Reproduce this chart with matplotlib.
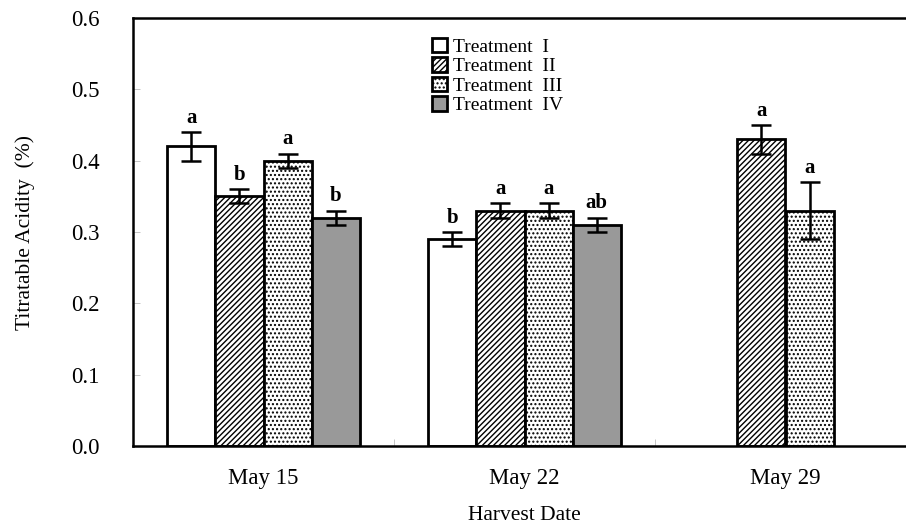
import numpy as np
import matplotlib.pyplot as plt
import matplotlib as mpl

plt.rcParams['font.family'] = ['Liberation Serif', 'DejaVu Serif']
mpl.rcParams['hatch.linewidth'] = 1.0

dates = ["May 15", "May 22", "May 29"]
treatments = ["Treatment  I", "Treatment  II", "Treatment  III", "Treatment  IV"]

# values per treatment (None = not harvested)
t1 = [0.42, 0.29, None]
t2 = [0.35, 0.33, 0.43]
t3 = [0.40, 0.33, 0.33]
t4 = [0.32, 0.31, None]
err1 = [0.02, 0.01, None]
err2 = [0.01, 0.01, 0.02]
err3 = [0.01, 0.01, 0.04]
err4 = [0.01, 0.01, None]
letters1 = ["a", "b", None]
letters2 = ["b", "a", "a"]
letters3 = ["a", "a", "a"]
letters4 = ["b", "ab", None]

vals = [t1, t2, t3, t4]
errs = [err1, err2, err3, err4]
letters = [letters1, letters2, letters3, letters4]
faces = ["white", "white", "white", "#999999"]
hatches = [None, "//////", "....", None]

fig = plt.figure(figsize=(9.06, 5.29), dpi=100)
# right edge of the axes goes past the figure, like the original crop
ax = fig.add_axes([133/906, (529-446)/529, (916-133)/906, (446-18)/529])

w = 0.184
offs = [-1.5, -0.5, 0.5, 1.5]
handles = []
for k in range(4):
    xs, ys, es, labs = [], [], [], []
    for i in range(3):
        if vals[k][i] is None:
            continue
        xs.append(i + offs[k] * w)
        ys.append(vals[k][i])
        es.append(errs[k][i])
        labs.append(letters[k][i])
    b = ax.bar(xs, ys, w, color=faces[k], edgecolor="black", linewidth=2,
               hatch=hatches[k], label=treatments[k], zorder=2)
    handles.append(b)
    ax.errorbar(xs, ys, yerr=es, fmt="none", ecolor="black", elinewidth=1.8,
                capsize=7, capthick=1.8, zorder=3)
    for x, y, e, s in zip(xs, ys, es, labs):
        ax.text(x, y + e + 0.006, s, ha="center", va="bottom",
                fontsize=15, fontweight="bold", zorder=4)

ax.set_xlim(-0.5, 2.5)
ax.set_ylim(0, 0.6)
ax.set_xticks([0, 1, 2])
ax.set_xticklabels(dates, fontsize=16.5)
ax.set_xticks([0.5, 1.5], minor=True)
ax.set_yticks(np.arange(0, 0.61, 0.1))
ax.set_yticklabels([f"{v:.1f}" for v in np.arange(0, 0.61, 0.1)], fontsize=16.5)
ax.tick_params(axis="x", which="major", length=0, pad=16)
ax.tick_params(axis="x", which="minor", direction="in", length=5, width=0.6, color="#bbbbbb")
ax.tick_params(axis="y", direction="in", length=5, width=0.6, color="#bbbbbb", pad=24)
for s in ["left", "bottom", "top"]:
    ax.spines[s].set_linewidth(1.8)
ax.spines["right"].set_visible(False)

ax.set_ylabel("Titratable Acidity  (%)", fontsize=15.5, labelpad=26)
ax.set_xlabel("Harvest Date", fontsize=15.5, labelpad=12)

ax.legend(handles=handles, loc="upper left", bbox_to_anchor=(0.365, 0.985), frameon=False,
          fontsize=14, handlelength=0.75, handleheight=0.75, handletextpad=0.3,
          labelspacing=0.08, borderpad=0.2)

fig.savefig("out.png", dpi=100)
